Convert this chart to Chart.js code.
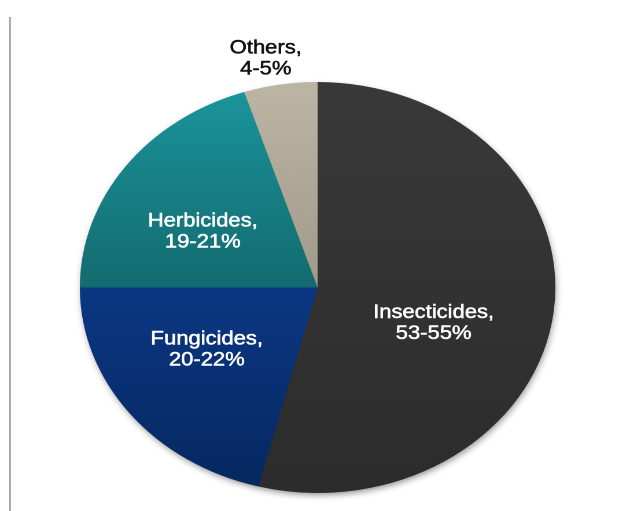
<!DOCTYPE html>
<html><head><meta charset="utf-8">
<script src="https://cdn.jsdelivr.net/npm/chart.js@4.4.1/dist/chart.umd.min.js"></script>
<style>
html,body{margin:0;padding:0;background:#fff;width:619px;height:511px;overflow:hidden;}
#rule{position:absolute;left:9px;top:17px;width:2px;height:494px;background:#ababab;}
#wrap{position:absolute;left:0;top:0;width:535px;height:511px;transform:scaleX(1.157);transform-origin:0 0;}
</style></head><body>
<div id="rule"></div>
<div id="wrap"><canvas id="c"></canvas></div>
<script>
// ---- data ----
const categories = ['Insecticides', 'Fungicides', 'Herbicides', 'Others'];
const shareValues = [54, 21, 20, 5];
const shareLabels = ['53-55%', '20-22%', '19-21%', '4-5%'];

// ---- styling ----
const gradientStops = [
  [[0, '#393939'], [1, '#2c2c2c']],
  [[0.5, '#0b3783'], [1, '#06285f']],
  [[0, '#1b969d'], [0.5, '#136b6f']],
  [[0, '#bdb5a4'], [0.5, '#a09a8c']]
];
const fallbackColors = ['#333333', '#0a3070', '#178186', '#b0a898'];
const labelColors = ['#ffffff', '#ffffff', '#ffffff', '#111111'];
// label position relative to pie centre, in fractions of the radius
const labelOffsets = [[0.488, 0.175], [-0.466, 0.304], [-0.483, -0.270], [-0.218, -1.112]];

const shadowPlugin = {
  id: 'pieShadow',
  beforeDatasetsDraw(chart) {
    const arc = chart.getDatasetMeta(0).data[0];
    if (!arc) return;
    const ctx = chart.ctx, dpr = chart.currentDevicePixelRatio || 1;
    ctx.save();
    ctx.shadowColor = 'rgba(0,0,0,0.45)';
    ctx.shadowBlur = 7 * dpr;
    ctx.shadowOffsetX = 1 * dpr;
    ctx.shadowOffsetY = 3 * dpr;
    ctx.beginPath();
    ctx.arc(arc.x, arc.y, arc.outerRadius - 1, 0, Math.PI * 2);
    ctx.fillStyle = '#333';
    ctx.fill();
    ctx.restore();
  }
};

const labelPlugin = {
  id: 'sliceLabels',
  afterDatasetsDraw(chart) {
    const ctx = chart.ctx;
    const meta = chart.getDatasetMeta(0);
    ctx.save();
    ctx.font = '19px "Liberation Sans", Arial, sans-serif';
    ctx.textAlign = 'center';
    ctx.textBaseline = 'middle';
    ctx.lineWidth = 0.5;
    ctx.lineJoin = 'round';
    meta.data.forEach((arc, i) => {
      const R = arc.outerRadius;
      const x = arc.x + labelOffsets[i][0] * R;
      const y = arc.y + labelOffsets[i][1] * R;
      ctx.fillStyle = labelColors[i];
      ctx.strokeStyle = labelColors[i];
      const l1 = categories[i] + ',', l2 = shareLabels[i];
      ctx.fillText(l1, x, y - 10.5);
      ctx.strokeText(l1, x, y - 10.5);
      ctx.fillText(l2, x, y + 10.5);
      ctx.strokeText(l2, x, y + 10.5);
    });
    ctx.restore();
  }
};

new Chart(document.getElementById('c'), {
  type: 'pie',
  data: {
    labels: categories,
    datasets: [{
      data: shareValues,
      borderWidth: 0,
      backgroundColor: (c) => {
        const area = c.chart.chartArea;
        const i = c.dataIndex;
        if (!area || i === undefined) return fallbackColors[i] || '#333';
        const g = c.chart.ctx.createLinearGradient(0, area.top, 0, area.bottom);
        gradientStops[i].forEach(s => g.addColorStop(s[0], s[1]));
        return g;
      }
    }]
  },
  options: {
    responsive: true,
    maintainAspectRatio: false,
    devicePixelRatio: 2,
    animation: false,
    layout: { padding: { left: 69, right: 55, top: 82, bottom: 18 } },
    plugins: { legend: { display: false }, tooltip: { enabled: false } }
  },
  plugins: [shadowPlugin, labelPlugin]
});
</script>
</body></html>
